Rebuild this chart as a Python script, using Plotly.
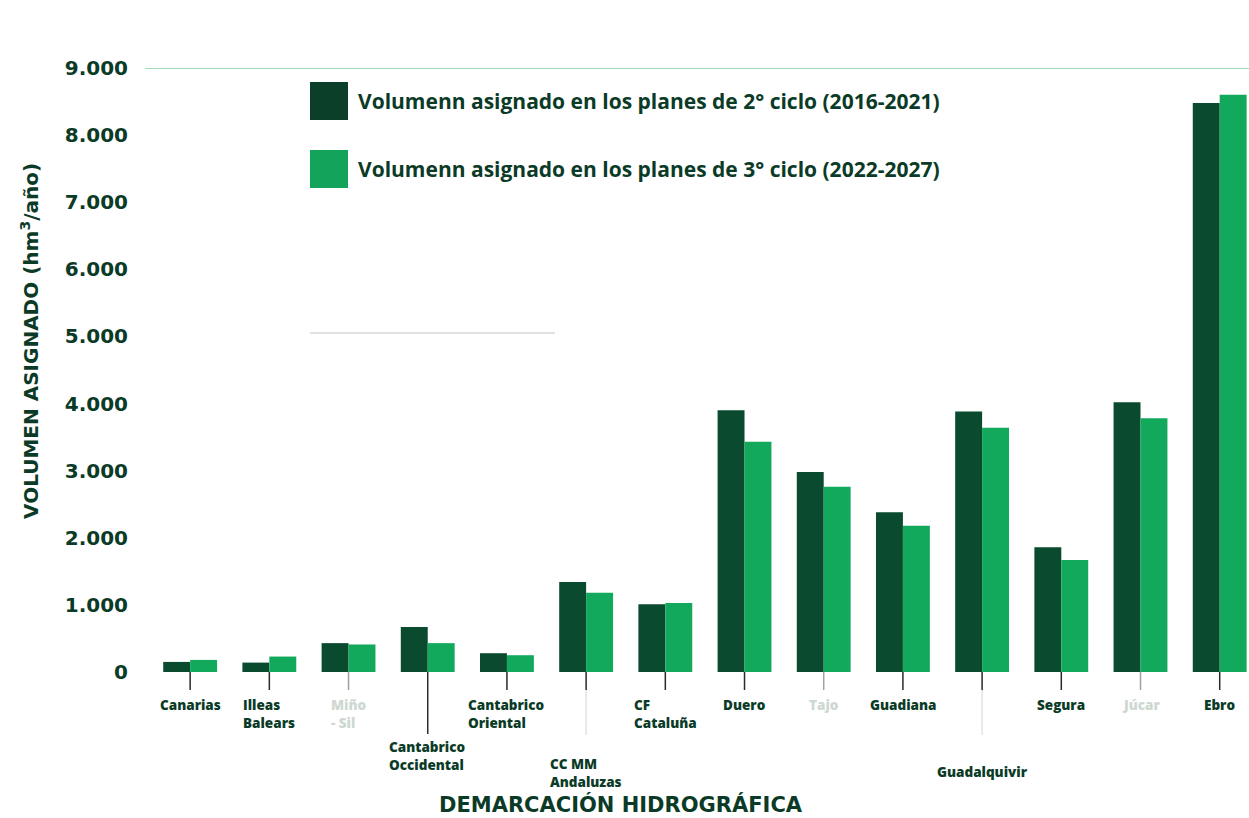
import plotly.graph_objects as go

# ---------------- data ----------------
categories = ["Canarias", "Illeas<br>Balears", "Miño<br>- Sil", "Cantabrico<br>Occidental",
              "Cantabrico<br>Oriental", "CC MM<br>Andaluzas", "CF<br>Cataluña", "Duero", "Tajo",
              "Guadiana", "Guadalquivir", "Segura", "Júcar", "Ebro"]
ciclo2 = [150, 140, 430, 670, 280, 1340, 1010, 3900, 2980, 2380, 3880, 1860, 4020, 8480]
ciclo3 = [180, 230, 410, 430, 250, 1180, 1030, 3430, 2760, 2180, 3640, 1670, 3780, 8600]
name2 = "Volumenn asignado en los planes de 2° ciclo (2016-2021)"
name3 = "Volumenn asignado en los planes de 3° ciclo (2022-2027)"
y_tickvals = [0, 1000, 2000, 3000, 4000, 5000, 6000, 7000, 8000, 9000]
y_ticktext = ["0", "1.000", "2.000", "3.000", "4.000", "5.000", "6.000", "7.000", "8.000", "9.000"]

# ---------------- layout helpers (not data) ----------------
label_row = [0, 0, 0, 1, 0, 2, 0, 0, 0, 0, 3, 0, 0, 0]        # staggered label rows
label_faded = [False, False, True, False, False, False, False, False, True, False, False, False, True, False]

W, H = 1249, 818
L, R, T, B = 145, 0, 68, 146
PW, PH = W - L - R, H - T - B

def px_x(px):
    return (px - L) / PW

def px_y(py):
    return (H - B - py) / PH

DARK = "#0a4a2f"
LIGHT = "#12a95c"
TXT = "#0b3b27"
FADED = "#cdd8d1"

fig = go.Figure()
fig.add_trace(go.Bar(x=categories, y=ciclo2, name=name2, marker=dict(color=DARK, line=dict(width=0)),
                     showlegend=False))
fig.add_trace(go.Bar(x=categories, y=ciclo3, name=name3, marker=dict(color=LIGHT, line=dict(width=0)),
                     showlegend=False))

shapes = []
annotations = []

# top green line at 9000
shapes.append(dict(type="line", xref="paper", yref="y", x0=0, x1=1, y0=9000, y1=9000,
                   line=dict(color="#86cf9a", width=1.5)))
# faint stray line
shapes.append(dict(type="line", xref="paper", yref="paper", x0=px_x(310), x1=px_x(555),
                   y0=px_y(333), y1=px_y(333), line=dict(color="#bfc7c3", width=1.2)))

row_top = {0: 694, 1: 736, 2: 753, 3: 761}
row_tick = {0: 690, 1: 734, 2: 690, 3: 690}
for i, cat in enumerate(categories):
    r = label_row[i]
    faded = label_faded[i]
    shapes.append(dict(type="line", xref="x", yref="paper", x0=i, x1=i, y0=0, y1=px_y(row_tick[r]),
                       line=dict(color="#9aa5a0" if faded else "#2a2a2a", width=1.5)))
    if r >= 2:
        shapes.append(dict(type="line", xref="x", yref="paper", x0=i, x1=i, y0=px_y(690), y1=px_y(735),
                           line=dict(color="#dfe5e2", width=1.5)))
    annotations.append(dict(x=cat, xref="x", y=px_y(row_top[r]), yref="paper", text=cat,
                            showarrow=False, xanchor="center", yanchor="top", align="left",
                            font=dict(family="Open Sans", size=13.5,
                                      color=FADED if faded else TXT, weight=800)))

# manual legend
for name, col, yc in [(name2, "#0c3f2a", 101), (name3, "#14a35a", 169)]:
    shapes.append(dict(type="rect", xref="paper", yref="paper", x0=px_x(310), x1=px_x(348),
                       y0=px_y(yc + 19), y1=px_y(yc - 19), fillcolor=col, line=dict(width=0)))
    annotations.append(dict(x=px_x(356), y=px_y(yc), xref="paper", yref="paper", text=name,
                            showarrow=False, xanchor="left", yanchor="middle",
                            font=dict(family="Open Sans", size=21, color=TXT, weight=700)))

# axis titles
annotations.append(dict(x=px_x(30), y=px_y(341), xref="paper", yref="paper",
                        text="VOLUMEN ASIGNADO (hm<sup>3</sup>/año)", textangle=-90, showarrow=False,
                        xanchor="center", yanchor="middle",
                        font=dict(family="DejaVu Sans", size=20, color=TXT, weight=700)))
annotations.append(dict(x=px_x(621), y=px_y(804), xref="paper", yref="paper",
                        text="DEMARCACIÓN HIDROGRÁFICA", showarrow=False,
                        xanchor="center", yanchor="middle",
                        font=dict(family="DejaVu Sans", size=21, color=TXT, weight=700)))

fig.update_layout(
    width=W, height=H,
    margin=dict(l=L, r=R, t=T, b=B, autoexpand=False),
    paper_bgcolor="white", plot_bgcolor="white",
    barmode="group", bargap=0.32, bargroupgap=0,
    shapes=shapes, annotations=annotations,
    xaxis=dict(type="category", range=[-0.57, 13.37], showticklabels=False, showgrid=False,
               zeroline=False, showline=False, ticks=""),
    yaxis=dict(range=[0, 9000], tickvals=y_tickvals, ticktext=y_ticktext, showgrid=False,
               zeroline=False, showline=False, ticks="", ticklabelstandoff=16,
               tickfont=dict(family="DejaVu Sans", size=20, color=TXT, weight=700)),
    font=dict(family="Open Sans", color=TXT),
)

fig.write_html("out.html", config={"displayModeBar": False},
               post_script="document.body.style.margin='0';document.body.style.overflow='hidden';")
